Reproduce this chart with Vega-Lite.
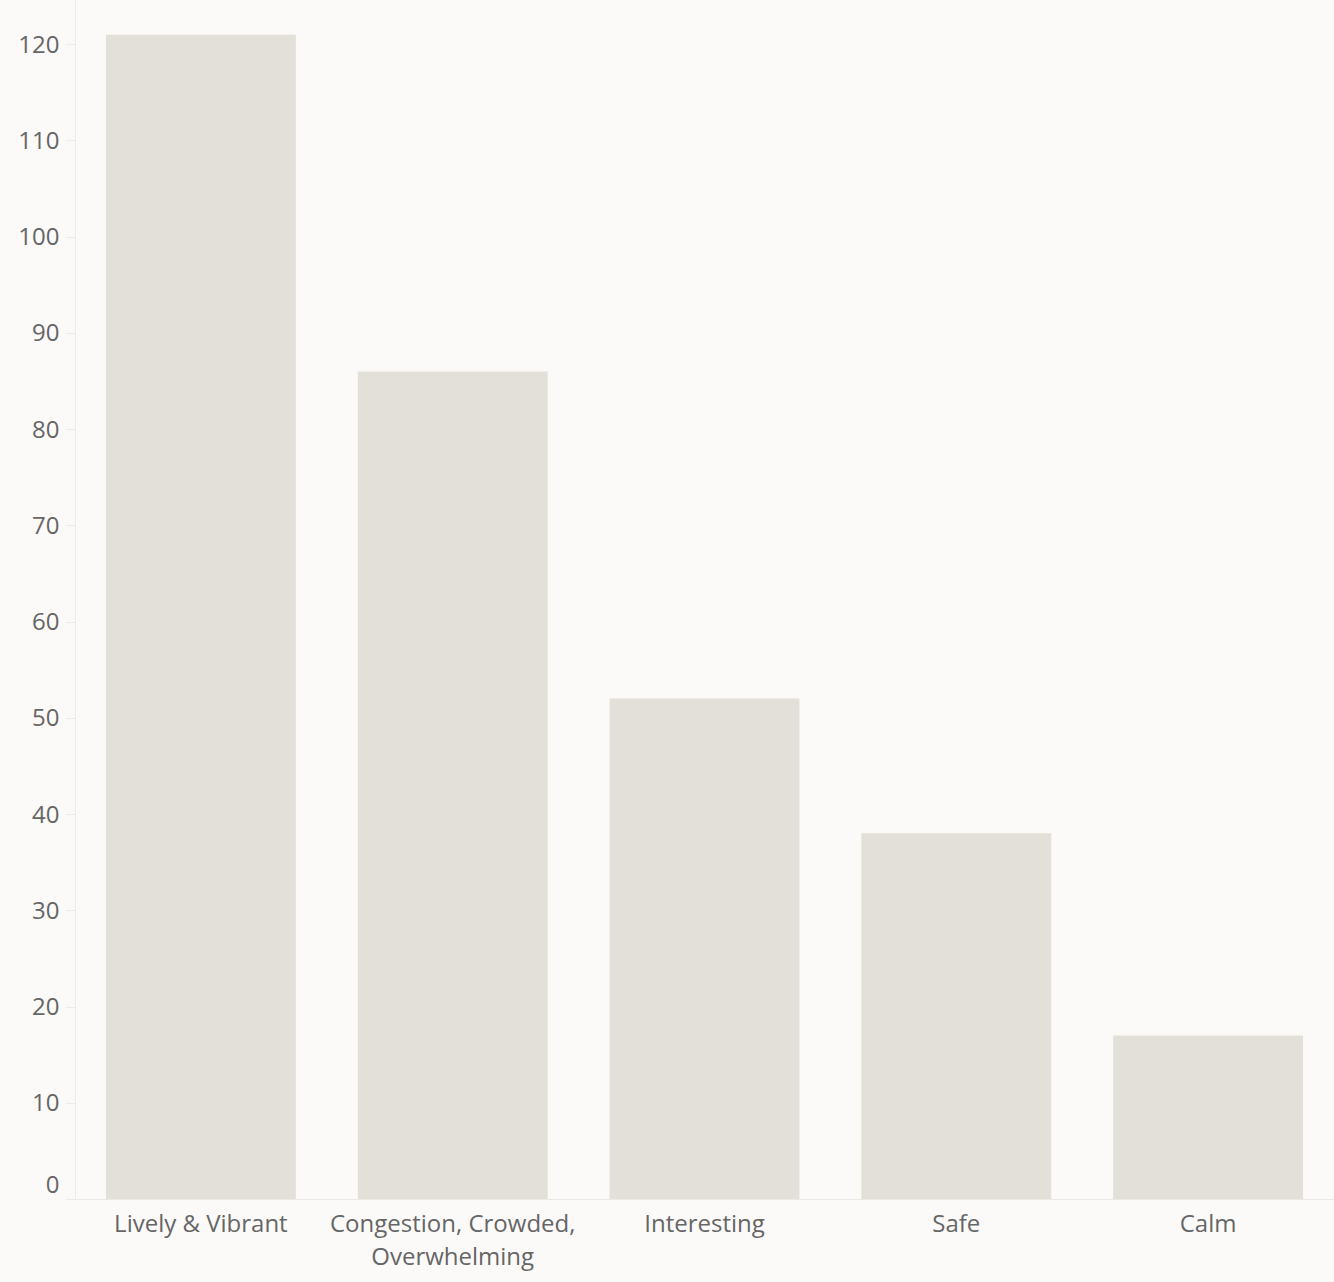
{
  "$schema": "https://vega.github.io/schema/vega-lite/v6.json",
  "width": 1259,
  "height": 1199,
  "autosize": "none",
  "padding": {"left": 75, "top": 0, "right": 0, "bottom": 83},
  "background": "#fbfaf8",
  "data": {"values": [
    {"category": "Lively & Vibrant", "count": 121},
    {"category": "Congestion, Crowded, Overwhelming", "count": 86},
    {"category": "Interesting", "count": 52},
    {"category": "Safe", "count": 38},
    {"category": "Calm", "count": 17}
  ]},
  "mark": {"type": "bar", "color": "#e3dfd9"},
  "encoding": {
    "x": {
      "field": "category", "type": "nominal", "sort": null,
      "scale": {"paddingInner": 0.246, "paddingOuter": 0.123},
      "axis": {
        "title": null, "labelAngle": 0, "ticks": false, "labelLimit": 0,
        "domainColor": "#ece9e4", "labelColor": "#666666",
        "labelFont": "Open Sans", "labelFontSize": 24, "labelPadding": 13,
        "labelLineHeight": 33, "labelBaseline": "top",
        "labelExpr": "datum.label == 'Congestion, Crowded, Overwhelming' ? ['Congestion, Crowded,', 'Overwhelming'] : datum.label"
      }
    },
    "y": {
      "field": "count", "type": "quantitative",
      "scale": {"domain": [0, 124.6], "nice": false},
      "axis": {
        "title": null, "grid": false,
        "values": [0, 10, 20, 30, 40, 50, 60, 70, 80, 90, 100, 110, 120],
        "tickColor": "#eeebe7", "tickSize": 10, "labelPadding": 6,
        "domainColor": "#eeebe7", "labelColor": "#666666",
        "labelFont": "Open Sans", "labelFontSize": 24, "labelOffset": 1,
        "labelFlush": true, "labelFlushOffset": -3
      }
    }
  },
  "config": {"view": {"stroke": null}}
}
